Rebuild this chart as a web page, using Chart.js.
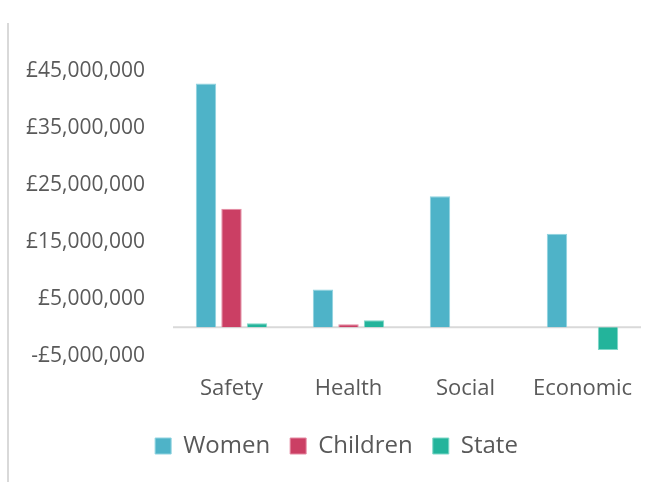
<!DOCTYPE html>
<html lang="en">
<head>
    <meta charset="UTF-8">
    <title>Impact by group</title>
    <script src="https://cdn.jsdelivr.net/npm/chart.js"></script>
    <style>
        body { margin: 0; background: #fff; }
        #wrap { position: relative; width: 646px; height: 482px; }
        #edge { position: absolute; left: 7px; top: 23px; bottom: 0; border-left: 2px solid #d9d9d9; }
    </style>
</head>
<body>
    <div id="wrap">
        <div id="edge"></div>
        <canvas id="impactChart" width="646" height="482"></canvas>
    </div>

    <script>
        // Values
        const categories = ['Safety', 'Health', 'Social', 'Economic'];
        const women = [42800000, 6600000, 23000000, 16400000];
        const children = [20800000, 500000, 0, 0];
        const state = [700000, 1200000, 0, -4000000];
        const yTicks = [-5000000, 5000000, 15000000, 25000000, 35000000, 45000000];

        const textColor = '#595959';
        const fontFamily = "'Open Sans', sans-serif";

        // Horizontal line at zero
        const zeroLine = {
            id: 'zeroLine',
            beforeDatasetsDraw(chart) {
                const ctx = chart.ctx;
                const y = chart.scales.y.getPixelForValue(0);
                ctx.save();
                ctx.strokeStyle = '#d9d9d9';
                ctx.lineWidth = 2;
                ctx.beginPath();
                ctx.moveTo(chart.chartArea.left, y);
                ctx.lineTo(chart.chartArea.right, y);
                ctx.stroke();
                ctx.restore();
            }
        };

        // nudge the legend to where it sits in the original
        const legendNudge = {
            id: 'legendNudge',
            afterLayout(chart) {
                const lg = chart.legend;
                lg.left += 16; lg.right += 16;
                lg.top -= 8; lg.bottom -= 8;
            }
        };

        const gbp = v => (v < 0 ? '-£' : '£') + Math.abs(v).toLocaleString('en-GB');

        const ctx = document.getElementById('impactChart').getContext('2d');
        new Chart(ctx, {
            type: 'bar',
            data: {
                labels: categories,
                datasets: [
                    { label: 'Women', data: women, backgroundColor: '#4eb3c8', borderColor: '#8fd3e0', borderWidth: 1 },
                    { label: 'Children', data: children, backgroundColor: '#cb3f64', borderColor: '#e58aa2', borderWidth: 1 },
                    { label: 'State', data: state, backgroundColor: '#23b49b', borderColor: '#7fd8c8', borderWidth: 1 }
                ]
            },
            options: {
                responsive: false,
                animation: false,
                layout: { padding: { top: 71, right: 5, left: 0, bottom: 6 } },
                datasets: {
                    bar: { categoryPercentage: 0.654, barPercentage: 0.8 }
                },
                scales: {
                    x: {
                        grid: { display: false, drawTicks: false },
                        border: { display: false },
                        afterFit: axis => { axis.paddingLeft = 0; axis.paddingRight = 0; },
                        ticks: {
                            color: textColor,
                            padding: 20,
                            font: { family: fontFamily, size: 22 }
                        }
                    },
                    y: {
                        min: -5000000,
                        max: 45000000,
                        grid: { display: false, drawTicks: false },
                        border: { display: false },
                        afterBuildTicks: axis => { axis.ticks = yTicks.map(v => ({ value: v })); },
                        afterFit: axis => { axis.width = 173; },
                        ticks: {
                            color: textColor,
                            padding: 28,
                            font: { family: fontFamily, size: 21 },
                            callback: v => gbp(v)
                        }
                    }
                },
                plugins: {
                    legend: {
                        position: 'bottom',
                        labels: {
                            color: textColor,
                            boxWidth: 16,
                            boxHeight: 16,
                            padding: 20,
                            font: { family: fontFamily, size: 24 }
                        }
                    },
                    tooltip: { enabled: false }
                }
            },
            plugins: [zeroLine, legendNudge]
        });
    </script>
</body>
</html>
